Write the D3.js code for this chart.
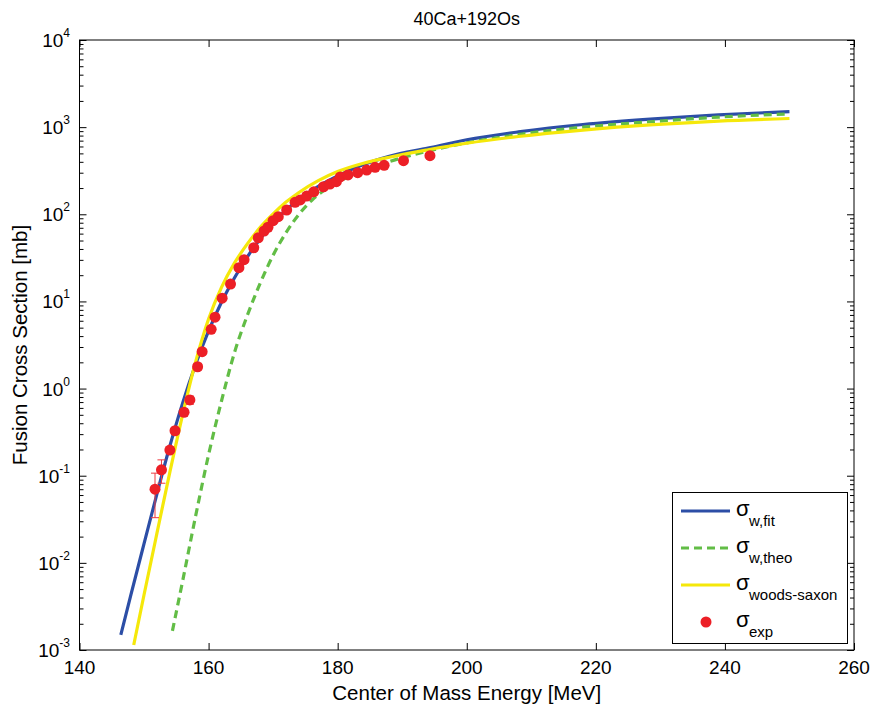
<!DOCTYPE html>
<html>
<head>
<meta charset="utf-8">
<script src="https://cdn.jsdelivr.net/npm/d3@7"></script>
<style>
  html, body { margin: 0; padding: 0; background: #fff; }
  svg { display: block; }
  text { font-family: "Liberation Sans", Arial, Helvetica, sans-serif; fill: #000; }
</style>
</head>
<body>
<svg id="chart" width="874" height="708"></svg>
<script>
// ---------- data ----------
const title = "40Ca+192Os";
const xLabel = "Center of Mass Energy [MeV]";
const yLabel = "Fusion Cross Section [mb]";
const xTicks = [140, 160, 180, 200, 220, 240, 260];
const yExponents = [-3, -2, -1, 0, 1, 2, 3, 4];

// sigma_w,fit
const fitE = [146.4, 148, 150, 152, 154, 156, 158, 160, 162, 164, 166, 168, 170, 172, 174, 177, 180, 184, 188, 194, 200, 208, 218, 229, 239, 250];
const fitS = [0.00149, 0.0044, 0.0166, 0.062, 0.219, 0.69, 1.9, 4.6, 9.8, 18.6, 32.4, 52.5, 79, 112, 148, 209, 275, 372, 462, 575, 716, 881, 1072, 1245, 1380, 1510];

// sigma_w,theo
const theoE = [154.4, 156, 158, 160, 162, 164, 166, 168, 170, 172, 174, 176, 178, 180, 184, 188, 194, 200, 208, 218, 229, 239, 250];
const theoS = [0.00166, 0.0063, 0.0347, 0.174, 0.72, 2.57, 6.9, 16.2, 33.9, 61.7, 100, 145, 190, 234, 316, 403, 531, 661, 822, 1000, 1161, 1303, 1419];

// sigma_woods-saxon
const wsE = [148.4, 150, 152, 154, 156, 158, 160, 162, 164, 166, 168, 170, 172, 174, 177, 180, 184, 188, 194, 200, 208, 218, 229, 239, 250];
const wsS = [0.00114, 0.0043, 0.0219, 0.11, 0.51, 2.04, 6.3, 14.5, 27.5, 45.7, 70.8, 101, 138, 178, 243, 309, 385, 452, 550, 653, 781, 925, 1067, 1175, 1257];

// sigma_exp with error
const expE = [151.7, 152.7, 154.0, 154.8, 156.2, 157.1, 158.3, 159.0, 160.4, 161.0, 162.1, 163.4, 164.7, 165.5, 167.0, 167.7, 168.6, 169.2, 170.0, 170.8, 172.1, 173.4, 174.2, 175.2, 176.3, 177.8, 178.8, 179.8, 180.4, 181.6, 183.1, 184.5, 185.8, 187.2, 190.2, 194.3];
const expS = [0.070, 0.117, 0.197, 0.328, 0.535, 0.74, 1.78, 2.65, 4.79, 6.6, 10.9, 15.8, 24.4, 30.1, 41.3, 53.8, 64.3, 71, 84.4, 93.8, 112, 137, 146, 162, 181, 207, 222, 237, 268, 283, 300, 322, 346, 365, 412, 470];
const expErr = [0.037, 0.035, 0.015, 0.03, 0.05, 0.08, 0.15, 0.2, 0.35, 0.5, 0.8, 1.2, 1.8, 2.2, 3, 4, 4.5, 5, 6, 6.5, 8, 9, 10, 11, 12, 13, 14, 15, 16, 17, 18, 19, 20, 21, 23, 25];

const legendItems = [
  { sub: "w,fit", kind: "line", color: "#2c4ea6", dash: null },
  { sub: "w,theo", kind: "line", color: "#62bd46", dash: "8,5" },
  { sub: "woods-saxon", kind: "line", color: "#f5e80a", dash: null },
  { sub: "exp", kind: "dot", color: "#ec1f26", dash: null }
];

// ---------- layout ----------
const L = 79.5, R = 854, T = 40, B = 650;
const svg = d3.select("#chart");
const x = d3.scaleLinear().domain([140, 260]).range([L, R]);
const y = d3.scaleLog().domain([1e-3, 1e4]).range([B, T]);

svg.append("defs").append("clipPath").attr("id", "clip")
  .append("rect").attr("x", L).attr("y", T).attr("width", R - L).attr("height", B - T);

// ---------- axes ----------
const allY = y.ticks();
const majorY = yExponents.map(e => Math.pow(10, e));
const minorY = allY.filter(v => !majorY.some(m => Math.abs(m - v) / m < 1e-6));

function drawAxis(axis, transform, size, vals) {
  const g = svg.append("g").attr("transform", transform)
    .call(axis.tickValues(vals).tickSize(size).tickFormat(""));
  g.select(".domain").remove();
  g.selectAll(".tick line").attr("stroke", "#000").attr("stroke-width", 1);
  return g;
}
drawAxis(d3.axisBottom(x), `translate(0,${B})`, -7, xTicks);
drawAxis(d3.axisTop(x), `translate(0,${T})`, -7, xTicks);
drawAxis(d3.axisLeft(y), `translate(${L},0)`, -7, majorY);
drawAxis(d3.axisLeft(y), `translate(${L},0)`, -4, minorY);
drawAxis(d3.axisRight(y), `translate(${R},0)`, -7, majorY);
drawAxis(d3.axisRight(y), `translate(${R},0)`, -4, minorY);

svg.append("rect").attr("x", L).attr("y", T).attr("width", R - L).attr("height", B - T)
  .attr("fill", "none").attr("stroke", "#000").attr("stroke-width", 1);

// x tick labels
svg.append("g").selectAll("text").data(xTicks).join("text")
  .attr("x", d => x(d)).attr("y", B + 24)
  .attr("text-anchor", "middle").attr("font-size", 19)
  .text(d => d);

// y tick labels with superscript
const yl = svg.append("g").selectAll("text").data(yExponents).join("text")
  .attr("x", 70).attr("y", d => y(Math.pow(10, d)) + 7)
  .attr("text-anchor", "end").attr("font-size", 19);
yl.append("tspan").text("10");
yl.append("tspan").attr("dy", -10).attr("font-size", 12).text(d => String(d));

// axis labels + title
svg.append("text").attr("x", (L + R) / 2).attr("y", 700)
  .attr("text-anchor", "middle").attr("font-size", 20.5).text(xLabel);
svg.append("text").attr("transform", `translate(27,${(T + B) / 2}) rotate(-90)`)
  .attr("text-anchor", "middle").attr("font-size", 20.5).text(yLabel);
svg.append("text").attr("x", (L + R) / 2).attr("y", 25)
  .attr("text-anchor", "middle").attr("font-size", 18).text(title);

// ---------- curves ----------
const plot = svg.append("g").attr("clip-path", "url(#clip)");
const line = d3.line().x(d => x(d[0])).y(d => y(d[1])).curve(d3.curveMonotoneX);

const series = [
  { E: fitE, S: fitS, item: legendItems[0] },
  { E: theoE, S: theoS, item: legendItems[1] },
  { E: wsE, S: wsS, item: legendItems[2] }
];
series.forEach(s => {
  plot.append("path")
    .datum(d3.zip(s.E, s.S))
    .attr("d", line)
    .attr("fill", "none")
    .attr("stroke", s.item.color)
    .attr("stroke-width", 3.2)
    .attr("stroke-dasharray", s.item.dash);
});

// ---------- experimental points ----------
const expData = d3.zip(expE, expS, expErr);
const eb = plot.append("g").attr("stroke", "#ec3a40").attr("stroke-width", 1).attr("fill", "none");
expData.forEach(([e, s, er]) => {
  const cx = x(e), y1 = y(s + er), y2 = y(Math.max(s - er, 1e-4));
  eb.append("line").attr("x1", cx).attr("x2", cx).attr("y1", y1).attr("y2", y2);
  eb.append("line").attr("x1", cx - 4).attr("x2", cx + 4).attr("y1", y1).attr("y2", y1);
  eb.append("line").attr("x1", cx - 4).attr("x2", cx + 4).attr("y1", y2).attr("y2", y2);
});
plot.append("g").selectAll("circle").data(expData).join("circle")
  .attr("cx", d => x(d[0])).attr("cy", d => y(d[1])).attr("r", 5.5)
  .attr("fill", legendItems[3].color);

// ---------- legend ----------
const lg = svg.append("g");
lg.append("rect").attr("x", 672.5).attr("y", 492.5).attr("width", 175).attr("height", 151)
  .attr("fill", "#fff").attr("stroke", "#000").attr("stroke-width", 1);
const rowY = [511, 548, 585, 622];
legendItems.forEach((it, i) => {
  const ry = rowY[i];
  if (it.kind === "line") {
    lg.append("line").attr("x1", 681).attr("x2", 730).attr("y1", ry).attr("y2", ry)
      .attr("stroke", it.color).attr("stroke-width", 3.2).attr("stroke-dasharray", it.dash);
  } else {
    lg.append("circle").attr("cx", 706).attr("cy", ry).attr("r", 5.5).attr("fill", it.color);
  }
  lg.append("text").attr("x", 736).attr("y", ry + 5).attr("font-size", 22).text("\u03C3");
  lg.append("text").attr("x", 749).attr("y", ry + 15).attr("font-size", 15).text(it.sub);
});
</script>
</body>
</html>
